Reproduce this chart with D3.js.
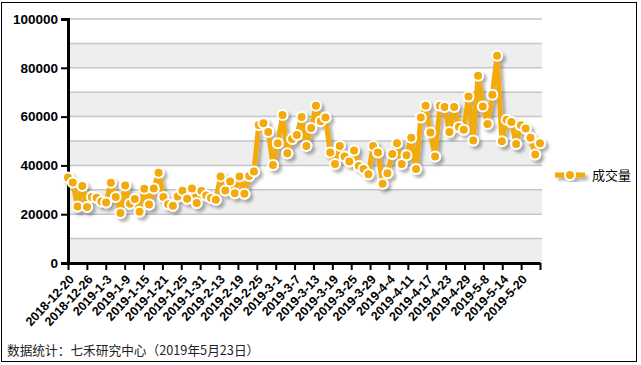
<!DOCTYPE html>
<html>
<head>
<meta charset="utf-8">
<script src="https://cdn.jsdelivr.net/npm/d3@7/dist/d3.min.js"></script>
<style>
  body { margin: 0; background: #fff; }
  svg { display: block; }
</style>
</head>
<body>
<svg id="chart" width="641" height="365"></svg>
<script>
// ---- data ----
const seriesName = '成交量';

// labels under every 4th trading day; the last tick has no label
const tickLabels = [
    '2018-12-20', '2018-12-26', '2019-1-3', '2019-1-9', '2019-1-15',
    '2019-1-21', '2019-1-25', '2019-1-31', '2019-2-13', '2019-2-19',
    '2019-2-25', '2019-3-1', '2019-3-7', '2019-3-13', '2019-3-19',
    '2019-3-25', '2019-3-29', '2019-4-4', '2019-4-11', '2019-4-17',
    '2019-4-23', '2019-4-29', '2019-5-8', '2019-5-14', '2019-5-20'
];

// daily volume, 2018-12-20 .. 2019-5-23
const volume = [
    35000, 33000, 23200, 31600, 23000, 27100, 26700, 25200, 24800, 32900,
    27000, 20500, 31800, 24300, 26200, 21000, 30400, 24000, 30500, 37000,
    27100, 24100, 23500, 27300, 29600, 26300, 30500, 24600, 29500, 27700,
    26600, 25900, 35500, 29700, 33400, 28600, 35500, 28400, 35700, 37500,
    56600, 57300, 53700, 40200, 49100, 60700, 45000, 50800, 52500, 59800,
    48000, 55300, 64400, 58100, 59600, 45300, 40600, 48000, 43600, 41600,
    46100, 39800, 38500, 36400, 48000, 45300, 32500, 36800, 44700, 49100,
    40600, 44200, 51300, 38500, 59600, 64400, 53500, 43600, 64400, 63900,
    53700, 63900, 55700, 54600, 68200, 50200, 76700, 64100, 57000, 69000,
    84900, 49900, 58700, 57800, 48800, 56500, 55100, 51300, 44500, 49100
];

const yTicks = [0, 20000, 40000, 60000, 80000, 100000];
const gridStep = 10000;
const footNote = '数据统计：七禾研究中心（2019年5月23日）';

// ---- layout ----
const W = 641, H = 365;
const plot = { left: 68, right: 540, top: 19, bottom: 263 };
const gridRight = 542;
const lineColor = '#f2aa0c';
const latin = 'Arial, "Liberation Sans", sans-serif';
const cjk = '"Noto Sans CJK SC", sans-serif';

const svg = d3.select('#chart');

// outer frame
svg.append('rect')
    .attr('x', 1.5).attr('y', 2.5)
    .attr('width', 635).attr('height', 359)
    .attr('fill', '#fff')
    .attr('stroke', '#000')
    .attr('stroke-width', 1);

// drop shadow for the series
const defs = svg.append('defs');
defs.append('filter')
    .attr('id', 'shadow')
    .attr('x', '-10%').attr('y', '-10%')
    .attr('width', '130%').attr('height', '130%')
    .append('feDropShadow')
    .attr('dx', 3).attr('dy', 3)
    .attr('stdDeviation', 1.8)
    .attr('flood-color', '#000')
    .attr('flood-opacity', 0.3);

// scales
const x = d3.scaleLinear()
    .domain([0, volume.length - 1])
    .range([plot.left, plot.right]);

const xTick = d3.scaleLinear()
    .domain([0, tickLabels.length])
    .range([plot.left, plot.right]);

const y = d3.scaleLinear()
    .domain([0, 100000])
    .range([plot.bottom, plot.top]);

// ---- plot background: alternating bands + gridlines ----
const bandStarts = d3.range(0, 100000, gridStep);
svg.append('g')
    .selectAll('rect')
    .data(bandStarts.filter((d, i) => i % 2 === 0))
    .enter()
    .append('rect')
    .attr('x', plot.left)
    .attr('y', d => y(d + gridStep))
    .attr('width', gridRight - plot.left)
    .attr('height', d => y(d) - y(d + gridStep))
    .attr('fill', '#eeeeee');

svg.append('g')
    .selectAll('line')
    .data(d3.range(gridStep, 100000 + 1, gridStep))
    .enter()
    .append('line')
    .attr('x1', plot.left)
    .attr('x2', gridRight)
    .attr('y1', d => y(d))
    .attr('y2', d => y(d))
    .attr('stroke', '#c6c6c6')
    .attr('stroke-width', 1.5);

// ---- axes ----
const yAxis = svg.append('g')
    .attr('transform', `translate(${plot.left},0)`)
    .call(d3.axisLeft(y)
        .tickValues(yTicks)
        .tickFormat(d3.format('d'))
        .tickSize(7)
        .tickPadding(3));

yAxis.select('.domain')
    .attr('stroke', '#000')
    .attr('stroke-width', 3);
yAxis.selectAll('.tick line')
    .attr('stroke', '#000')
    .attr('stroke-width', 2);
yAxis.selectAll('.tick text')
    .attr('fill', '#000')
    .style('font-family', latin)
    .style('font-size', '13.5px')
    .style('font-weight', 'bold');

const xAxis = svg.append('g')
    .attr('transform', `translate(0,${plot.bottom})`)
    .call(d3.axisBottom(xTick)
        .tickValues(d3.range(tickLabels.length + 1))
        .tickFormat(i => tickLabels[i] || '')
        .tickSize(7)
        .tickSizeOuter(0));

xAxis.select('.domain')
    .attr('stroke', '#000')
    .attr('stroke-width', 3);
xAxis.selectAll('.tick line')
    .attr('stroke', '#000')
    .attr('stroke-width', 2);
xAxis.selectAll('.tick text')
    .attr('fill', '#000')
    .attr('y', 0)
    .attr('dy', '0.35em')
    .attr('transform', 'translate(3,14) rotate(-47)')
    .style('text-anchor', 'end')
    .style('font-family', latin)
    .style('font-size', '12.5px')
    .style('font-weight', 'bold');

// ---- series ----
const series = svg.append('g').attr('filter', 'url(#shadow)');

const line = d3.line()
    .x((d, i) => x(i))
    .y(d => y(d));

series.append('path')
    .datum(volume)
    .attr('d', line)
    .attr('fill', 'none')
    .attr('stroke', lineColor)
    .attr('stroke-width', 5)
    .attr('stroke-linejoin', 'round');

series.selectAll('circle')
    .data(volume)
    .enter()
    .append('circle')
    .attr('cx', (d, i) => x(i))
    .attr('cy', d => y(d))
    .attr('r', 5)
    .attr('fill', lineColor)
    .attr('stroke', '#fff')
    .attr('stroke-width', 2);

// ---- legend ----
const legend = svg.append('g').attr('transform', 'translate(555,175)');
const legendMark = legend.append('g').attr('filter', 'url(#shadow)');
legendMark.append('line')
    .attr('x1', 0).attr('x2', 30)
    .attr('stroke', lineColor)
    .attr('stroke-width', 5);
legendMark.append('circle')
    .attr('cx', 15)
    .attr('r', 5)
    .attr('fill', lineColor)
    .attr('stroke', '#fff')
    .attr('stroke-width', 2);
legend.append('text')
    .attr('x', 37)
    .attr('dy', '0.35em')
    .attr('fill', '#000')
    .style('font-family', cjk)
    .style('font-size', '13px')
    .text(seriesName);

// ---- footnote ----
svg.append('text')
    .attr('x', 7)
    .attr('y', 351)
    .attr('dy', '0.35em')
    .attr('fill', '#222')
    .style('font-family', cjk)
    .style('font-size', '12.7px')
    .text(footNote);
</script>
</body>
</html>
